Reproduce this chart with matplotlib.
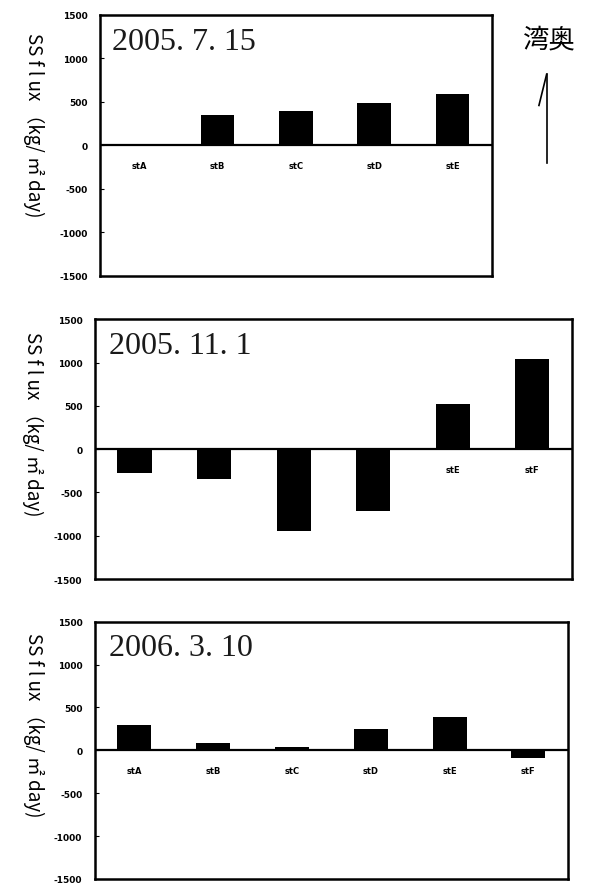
import matplotlib.pyplot as plt
import numpy as np

dates = ["2005. 7. 15", "2005. 11. 1", "2006. 3. 10"]

stations_1 = ["stA", "stB", "stC", "stD", "stE"]
flux_1 = [0, 345, 400, 490, 590]

stations_2 = ["stA", "stB", "stC", "stD", "stE", "stF"]
flux_2 = [-280, -350, -950, -710, 520, 1040]

stations_3 = ["stA", "stB", "stC", "stD", "stE", "stF"]
flux_3 = [290, 90, 40, 250, 390, -90]

y_ticks = [1500, 1000, 500, 0, -500, -1000, -1500]
y_label = "SS f l ux （kg/ ㎡ day)"
cjk = ["Noto Sans CJK JP", "DejaVu Sans"]

fig = plt.figure(figsize=(5.89, 8.87), dpi=100)

panels = [
    (stations_1, flux_1, dates[0], [0.170, 0.688, 0.665, 0.294], (-0.171, 0.58)),
    (stations_2, flux_2, dates[1], [0.161, 0.346, 0.810, 0.293], (-0.13, 0.60)),
    (stations_3, flux_3, dates[2], [0.161, 0.008, 0.803, 0.290], (-0.13, 0.60)),
]

for names, vals, date, rect, lab_xy in panels:
    ax = fig.add_axes(rect)
    x = np.arange(len(names))
    ax.bar(x, vals, width=0.43, color="black", zorder=3)
    ax.axhline(0, color="black", lw=1.6, zorder=2)
    for i, name in enumerate(names):
        ax.text(i, -230, name, ha="center", va="center", fontsize=6,
                fontweight="bold", zorder=1)
    ax.set_xlim(-0.5, len(names) - 0.5)
    ax.set_ylim(-1500, 1500)
    ax.set_yticks(y_ticks)
    ax.set_yticklabels([str(t) for t in y_ticks], fontsize=6.5, fontweight="bold")
    ax.tick_params(axis="y", direction="in", length=3, pad=9)
    ax.set_xticks([])
    for s in ax.spines.values():
        s.set_linewidth(1.8)
    ax.text(0.03, 0.955, date, transform=ax.transAxes, ha="left", va="top",
            fontsize=23, family="Liberation Serif", color="#1a1a1a")
    ax.set_ylabel(y_label, rotation=270, fontsize=13.5, family=cjk, va="center")
    ax.yaxis.set_label_coords(*lab_xy)

fig.text(0.932, 0.955, "湾奥", fontsize=19, family=cjk, ha="center", va="center")
fig.add_artist(plt.Line2D([0.928, 0.928], [0.815, 0.915], color="black", lw=1.2))
fig.add_artist(plt.Line2D([0.928, 0.915], [0.915, 0.880], color="black", lw=1.2))

fig.savefig("out.png", dpi=100)
